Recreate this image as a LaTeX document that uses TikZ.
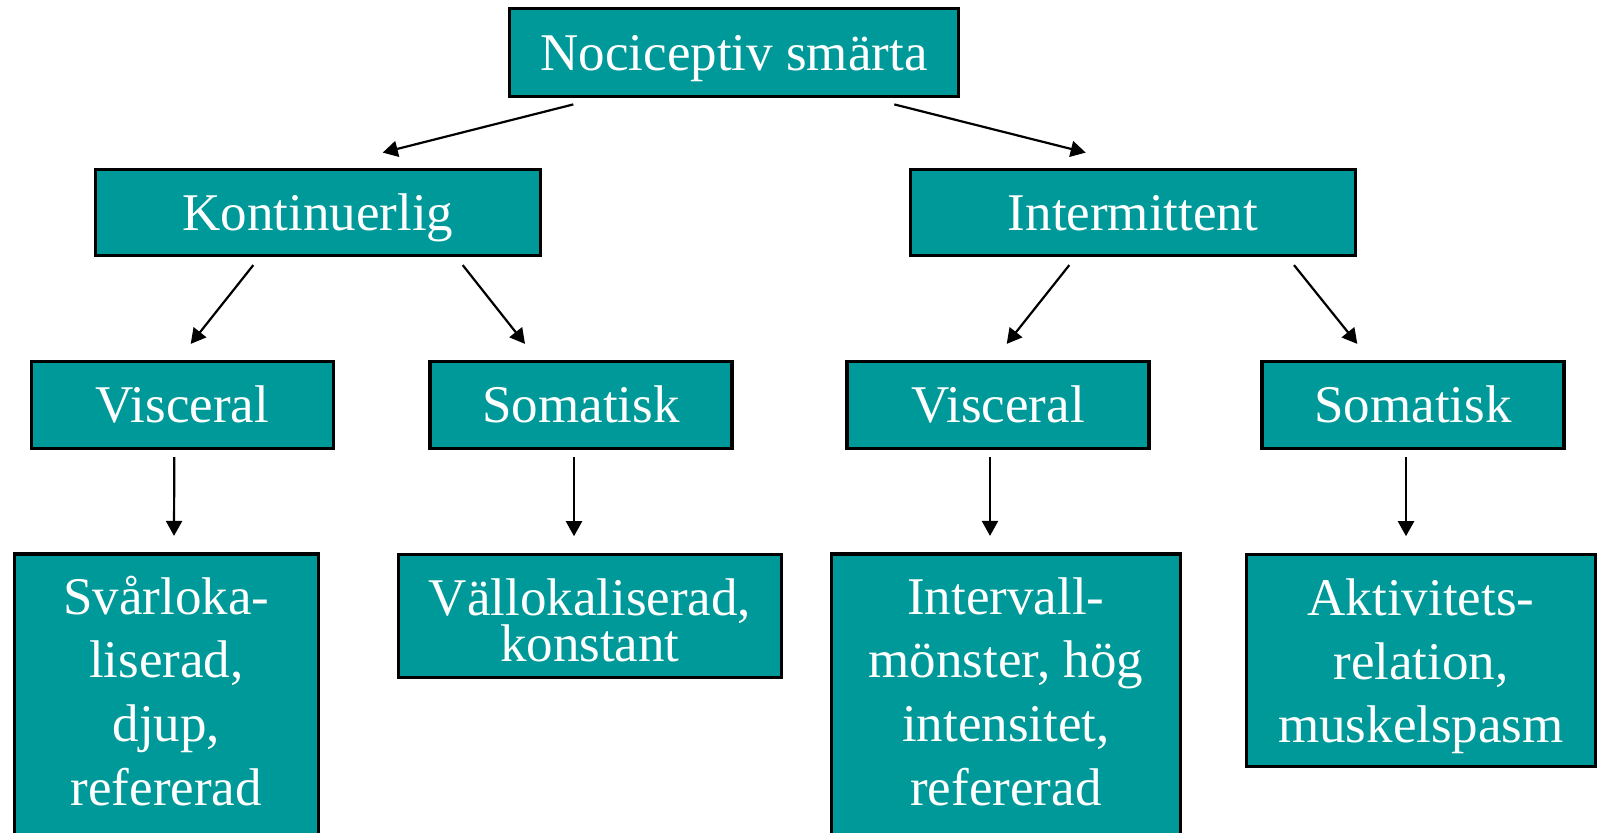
\documentclass[tikz,border=0pt]{standalone}
\usepackage{fontspec}
\setmainfont{Liberation Serif}
\usetikzlibrary{arrows.meta,positioning,calc}
\definecolor{teal}{HTML}{009999}
\begin{document}
\begin{tikzpicture}[x=0.5pt, y=-0.5pt, box/.style={draw, line width=1.6pt, fill=teal, text=white, minimum width=#1, minimum height=43.5pt, text height=17.5pt, text depth=0pt, align=center, font=\fontsize{26.5}{31.8}\selectfont}, >={Triangle[length=7.5pt, width=8pt]}]
\useasboundingbox (0,0) rectangle (1598,832);
\node[box=224.5pt, minimum height=44pt] (noci) at (734,52.5) {Nociceptiv smärta};
\node[box=222.5pt, minimum height=43pt] (kont) at (318,212.5) {Kontinuerlig}; \node[box=222.5pt, minimum height=43pt] (inter) at (1133,212.5) {Intermittent};
\node[box=151pt] (vis1) at (182.3,405) {Visceral}; \node[box=151pt] (som1) at (581,405) {Somatisk};
\node[box=151pt] (vis2) at (998,405) {Visceral}; \node[box=151pt] (som2) at (1413,405) {Somatisk};
\node[box=152pt, minimum height=144.75pt, text height=106.25pt] (svar) at (166.4,698.75) {Svårloka-\\liserad,\\djup,\\refererad};
\node[box=191.6pt, minimum height=61.6pt, text height=45.8pt, font={\fontsize{26.5}{23.35}\selectfont\lineskiplimit=-50pt}] (vall) at (589.9,615.9) {Vällokaliserad,\\konstant};
\node[box=174.3pt, minimum height=144.75pt, text height=106.25pt] (interv) at (1005.9,698.75) {Intervall-\\mönster, hög\\intensitet,\\refererad};
\node[box=174.5pt, minimum height=106.1pt, text height=82.3pt] (aktiv) at (1421,660.4) {Aktivitets-\\relation,\\muskelspasm};
\foreach \a/\ax/\ay/\b/\bx/\by in {noci/-160.7/6.3/kont/64.7/-15.3, noci/160.3/6.3/inter/-47.3/-15.3, kont/-64.7/8/vis1/8.4/-16, kont/144.7/8/som1/-56/-16, inter/-63.7/8/vis2/8.7/-16, inter/161/8/som2/-55.7/-16, vis1/-8/7/svar/7.6/-16.5, som1/-7/7/vall/-15.9/-16.5, vis2/-8/7/interv/-15.9/-16.5, som2/-7/7/aktiv/-15/-16.5}
  \draw[->, line width=1.1pt] ($(\a.south)+(\ax,\ay)$) -- ($(\b.north)+(\bx,\by)$);
\end{tikzpicture}
\end{document}
